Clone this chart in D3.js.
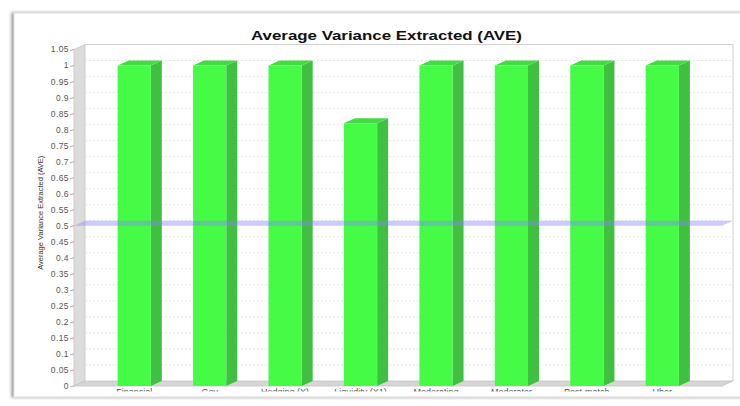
<!DOCTYPE html>
<html>
<head>
<meta charset="utf-8">
<script src="https://cdn.jsdelivr.net/npm/d3@7"></script>
<style>
  html, body { margin: 0; padding: 0; background: #fff; }
  svg { display: block; }
  text { font-family: "Liberation Sans", Arial, sans-serif; }
</style>
</head>
<body>
<svg id="chart" width="740" height="406"></svg>
<script>
// Constructs and their AVE values
const categories = ["Financial", "Gov", "Hedging (X)", "Liquidity (X1)", "Moderating", "Moderator", "Post-match", "Uber"];
const aveValues = [1, 1, 1, 0.82, 1, 1, 1, 1];
const yTicks = [0, 0.05, 0.1, 0.15, 0.2, 0.25, 0.3, 0.35, 0.4, 0.45, 0.5, 0.55, 0.6, 0.65, 0.7, 0.75, 0.8, 0.85, 0.9, 0.95, 1, 1.05];
const thresholdValue = [0.5];

const svg = d3.select("#chart");
const W = 740, H = 406;

// 3D depth offset of the plot
const DX = 11, DY = 5;
const plotLeft = 74, plotRight = 722;

const y = d3.scaleLinear().domain([0, 1.05]).range([386, 49.5]);
const x = d3.scaleBand().domain(categories).range([96.5, 700]).paddingInner(0.56).paddingOuter(0.28);

// card with soft shadow
const defs = svg.append("defs");
const sh = defs.append("filter").attr("id", "shadow").attr("x", "-5%").attr("y", "-5%").attr("width", "110%").attr("height", "110%");
sh.append("feDropShadow").attr("dx", -2).attr("dy", 0).attr("stdDeviation", 1.8).attr("flood-color", "#777").attr("flood-opacity", 0.8);
defs.append("clipPath").attr("id", "labelClip")
  .append("rect").attr("x", 0).attr("y", 0).attr("width", W).attr("height", 391.5);

svg.append("rect").attr("x", 14).attr("y", 13).attr("width", 740).attr("height", 384)
  .attr("fill", "#fff").attr("stroke", "#e2e2e2").attr("stroke-width", 1)
  .attr("filter", "url(#shadow)");

// title, stretched horizontally
svg.append("text").attr("x", 251).attr("y", 40)
  .attr("font-size", 13).attr("font-weight", "bold").attr("fill", "#111")
  .attr("textLength", 271).attr("lengthAdjust", "spacingAndGlyphs")
  .text("Average Variance Extracted (AVE)");

const g = svg.append("g");

// left wall
g.append("path")
  .attr("d", `M${plotLeft},${y(0)} L${plotLeft},${y(1.05)} L${plotLeft + DX},${y(1.05) - DY} L${plotLeft + DX},${y(0) - DY} Z`)
  .attr("fill", "#dcdcdc").attr("stroke", "#c4c4c4").attr("stroke-width", 0.8);

// floor
g.append("path")
  .attr("d", `M${plotLeft},${y(0)} L${plotLeft + DX},${y(0) - DY} L${plotRight + DX},${y(0) - DY} L${plotRight},${y(0)} Z`)
  .attr("fill", "#d6d6d6").attr("stroke", "#c4c4c4").attr("stroke-width", 0.8);

// back wall outline
g.append("path")
  .attr("d", `M${plotLeft + DX},${y(1.05) - DY} L${plotRight + DX},${y(1.05) - DY} L${plotRight + DX},${y(0) - DY}`)
  .attr("fill", "none").attr("stroke", "#d0d0d0").attr("stroke-width", 1);

// grid lines on the back wall
g.append("g").selectAll("line").data(yTicks.filter(t => t > 0 && t < 1.05)).join("line")
  .attr("x1", plotLeft + DX).attr("x2", plotRight + DX)
  .attr("y1", d => y(d) - DY).attr("y2", d => y(d) - DY)
  .attr("stroke", "#e0e0e0").attr("stroke-width", 0.8).attr("stroke-dasharray", "2,2");

// y axis ticks and labels
const yAxis = g.append("g");
yAxis.selectAll("line").data(yTicks).join("line")
  .attr("x1", plotLeft - 4).attr("x2", plotLeft)
  .attr("y1", d => y(d) + 1).attr("y2", d => y(d))
  .attr("stroke", "#999").attr("stroke-width", 0.8);
yAxis.selectAll("text").data(yTicks).join("text")
  .attr("x", plotLeft - 5).attr("y", d => y(d)).attr("dy", "0.35em")
  .attr("text-anchor", "end").attr("font-size", 8.5).attr("fill", "#555")
  .attr("letter-spacing", 0.4)
  .text(d => d3.format("~g")(d));

// y axis title
svg.append("text")
  .attr("transform", `translate(43,${(y(0) + y(1.05)) / 2 - 5}) rotate(-90)`)
  .attr("text-anchor", "middle").attr("font-size", 7.5).attr("fill", "#333")
  .text("Average Variance Extracted (AVE)");

// 3D bars
const bars = g.append("g").selectAll("g").data(categories.map((c, i) => ({ c, v: aveValues[i] }))).join("g");
const bw = x.bandwidth();
bars.append("path") // side face
  .attr("d", d => {
    const x1 = x(d.c) + bw, yt = y(d.v), yb = y(0);
    return `M${x1},${yb} L${x1},${yt} L${x1 + DX},${yt - DY} L${x1 + DX},${yb - DY} Z`;
  })
  .attr("fill", "#40c040");
bars.append("path") // top face
  .attr("d", d => {
    const x0 = x(d.c), yt = y(d.v);
    return `M${x0},${yt} L${x0 + DX},${yt - DY} L${x0 + bw + DX},${yt - DY} L${x0 + bw},${yt} Z`;
  })
  .attr("fill", "#42dc42");
bars.append("rect") // front face
  .attr("x", d => x(d.c)).attr("y", d => y(d.v))
  .attr("width", bw).attr("height", d => y(0) - y(d.v))
  .attr("fill", "#46fb46");

// threshold plane at 0.5
g.append("g").selectAll("path").data(thresholdValue).join("path")
  .attr("d", d => `M${plotLeft},${y(d)} L${plotLeft + DX},${y(d) - DY} L${plotRight + DX},${y(d) - DY} L${plotRight},${y(d)} Z`)
  .attr("fill", "rgba(130,130,255,0.42)");

// category labels (clipped by the card edge)
g.append("g").attr("clip-path", "url(#labelClip)")
  .selectAll("text").data(categories).join("text")
  .attr("x", d => x(d) + bw / 2).attr("y", 395)
  .attr("text-anchor", "middle").attr("font-size", 9).attr("fill", "#555")
  .text(d => d);
</script>
</body>
</html>
